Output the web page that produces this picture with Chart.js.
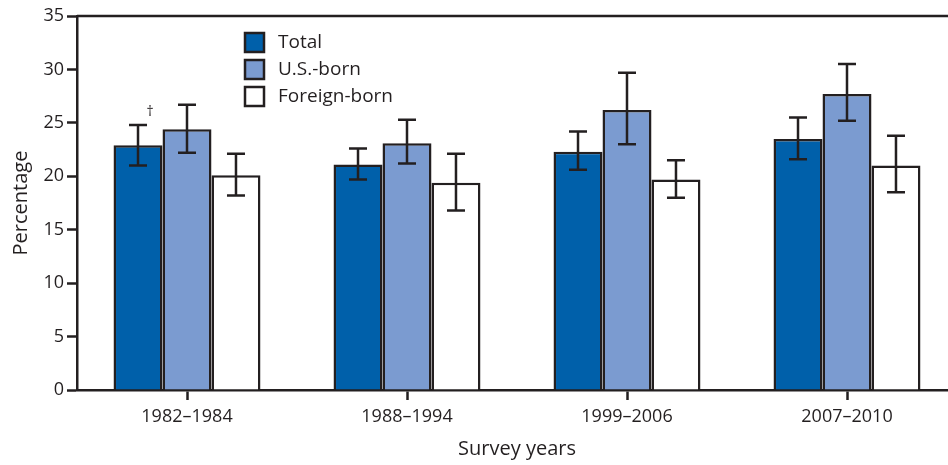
<!DOCTYPE html>
<html>
<head>
<meta charset="utf-8">
<script src="https://cdn.jsdelivr.net/npm/chart.js@4/dist/chart.umd.min.js"></script>
<style>
  html, body { margin: 0; padding: 0; overflow: hidden; background: #fff; }
  #wrap { width: 960px; height: 465px; }
</style>
</head>
<body>
<div id="wrap"><canvas id="chart"></canvas></div>
<script>
// периоды обследования
const surveyYears = ['1982\u20131984', '1988\u20131994', '1999\u20132006', '2007\u20132010'];

// проценты по группам
const totalValues = [22.9, 21.1, 22.3, 23.5];
const usBornValues = [24.4, 23.1, 26.2, 27.7];
const foreignBornValues = [20.1, 19.4, 19.7, 21.0];

// доверительные интервалы (нижняя и верхняя граница)
const totalLow = [21.0, 19.7, 20.6, 21.6];
const totalHigh = [24.8, 22.6, 24.2, 25.5];
const usBornLow = [22.2, 21.2, 23.0, 25.2];
const usBornHigh = [26.7, 25.3, 29.7, 30.5];
const foreignBornLow = [18.2, 16.8, 18.0, 18.5];
const foreignBornHigh = [22.1, 22.1, 21.5, 23.8];

const yTicks = [0, 5, 10, 15, 20, 25, 30, 35];

const ink = '#231f20';
const fontFamily = '"Open Sans", "Noto Sans", sans-serif';

// рисую планки погрешностей, кинжал и верхнюю линию
const errorBarsPlugin = {
  id: 'errorBars',
  afterDatasetsDraw(chart) {
    const ctx = chart.ctx;
    const y = chart.scales.y;
    const area = chart.chartArea;

    ctx.save();
    ctx.strokeStyle = ink;
    ctx.lineWidth = 2.5;

    // верхняя граница области
    ctx.beginPath();
    ctx.moveTo(area.left, area.top);
    ctx.lineTo(chart.width, area.top);
    ctx.stroke();

    chart.data.datasets.forEach((ds, i) => {
      const meta = chart.getDatasetMeta(i);
      meta.data.forEach((bar, j) => {
        const top = y.getPixelForValue(ds.errHigh[j]);
        const bottom = y.getPixelForValue(ds.errLow[j]);
        ctx.beginPath();
        ctx.moveTo(bar.x, top);
        ctx.lineTo(bar.x, bottom);
        ctx.moveTo(bar.x - 9, top);
        ctx.lineTo(bar.x + 9, top);
        ctx.moveTo(bar.x - 9, bottom);
        ctx.lineTo(bar.x + 9, bottom);
        ctx.stroke();
      });
    });

    // значок † над первым столбцом
    const first = chart.getDatasetMeta(0).data[0];
    ctx.fillStyle = ink;
    ctx.font = '14px ' + fontFamily;
    ctx.textAlign = 'center';
    ctx.textBaseline = 'middle';
    ctx.fillText('\u2020', first.x + 12, y.getPixelForValue(totalHigh[0]) - 13);

    // легенда
    ctx.font = '19px ' + fontFamily;
    ctx.textAlign = 'left';
    chart.data.datasets.forEach((ds, i) => {
      const bx = area.left + 168;
      const by = area.top + 17 + i * 27;
      ctx.fillStyle = ds.backgroundColor;
      ctx.fillRect(bx, by, 19, 19);
      ctx.lineWidth = 2.5;
      ctx.strokeRect(bx, by, 19, 19);
      ctx.fillStyle = ink;
      ctx.fillText(ds.label, bx + 33, by + 10);
    });

    ctx.restore();
  }
};

const chart = new Chart(document.getElementById('chart'), {
  type: 'bar',
  data: {
    labels: surveyYears,
    datasets: [
      {
        label: 'Total',
        data: totalValues,
        errLow: totalLow,
        errHigh: totalHigh,
        backgroundColor: '#0060aa',
        borderColor: ink,
        borderWidth: 2.5
      },
      {
        label: 'U.S.-born',
        data: usBornValues,
        errLow: usBornLow,
        errHigh: usBornHigh,
        backgroundColor: '#7b9bd0',
        borderColor: ink,
        borderWidth: 2.5
      },
      {
        label: 'Foreign-born',
        data: foreignBornValues,
        errLow: foreignBornLow,
        errHigh: foreignBornHigh,
        backgroundColor: '#ffffff',
        borderColor: ink,
        borderWidth: 2.5
      }
    ]
  },
  options: {
    responsive: true,
    maintainAspectRatio: false,
    animation: false,
    datasets: {
      bar: { categoryPercentage: 0.668, barPercentage: 1.0 }
    },
    layout: { padding: { top: 16, right: 3, left: 0, bottom: 0 } },
    plugins: {
      legend: { display: false },
      tooltip: { enabled: false }
    },
    scales: {
      x: {
        grid: {
          offset: false,
          drawOnChartArea: false,
          drawTicks: true,
          tickLength: 10,
          tickWidth: 2.5,
          color: ink
        },
        border: { color: ink, width: 2.5 },
        ticks: {
          color: ink,
          padding: 6,
          maxRotation: 0,
          font: { family: fontFamily, size: 18 }
        },
        title: {
          display: true,
          text: 'Survey years',
          color: ink,
          font: { family: fontFamily, size: 20 },
          padding: { top: 0, bottom: 4 }
        },
        afterFit(scale) { scale.height = 75; }
      },
      y: {
        min: 0,
        max: 35,
        afterBuildTicks(scale) {
          scale.ticks = yTicks.map(v => ({ value: v }));
        },
        grid: {
          drawOnChartArea: false,
          tickLength: 10,
          tickWidth: 2.5,
          color: ink
        },
        border: { color: ink, width: 2.5 },
        ticks: {
          color: ink,
          padding: 3,
          font: { family: fontFamily, size: 18 }
        },
        title: {
          display: true,
          text: 'Percentage',
          color: ink,
          font: { family: fontFamily, size: 20 },
          padding: { top: 9, bottom: 0 }
        },
        afterFit(scale) { scale.width = 77; }
      }
    }
  },
  plugins: [errorBarsPlugin]
});
</script>
</body>
</html>
